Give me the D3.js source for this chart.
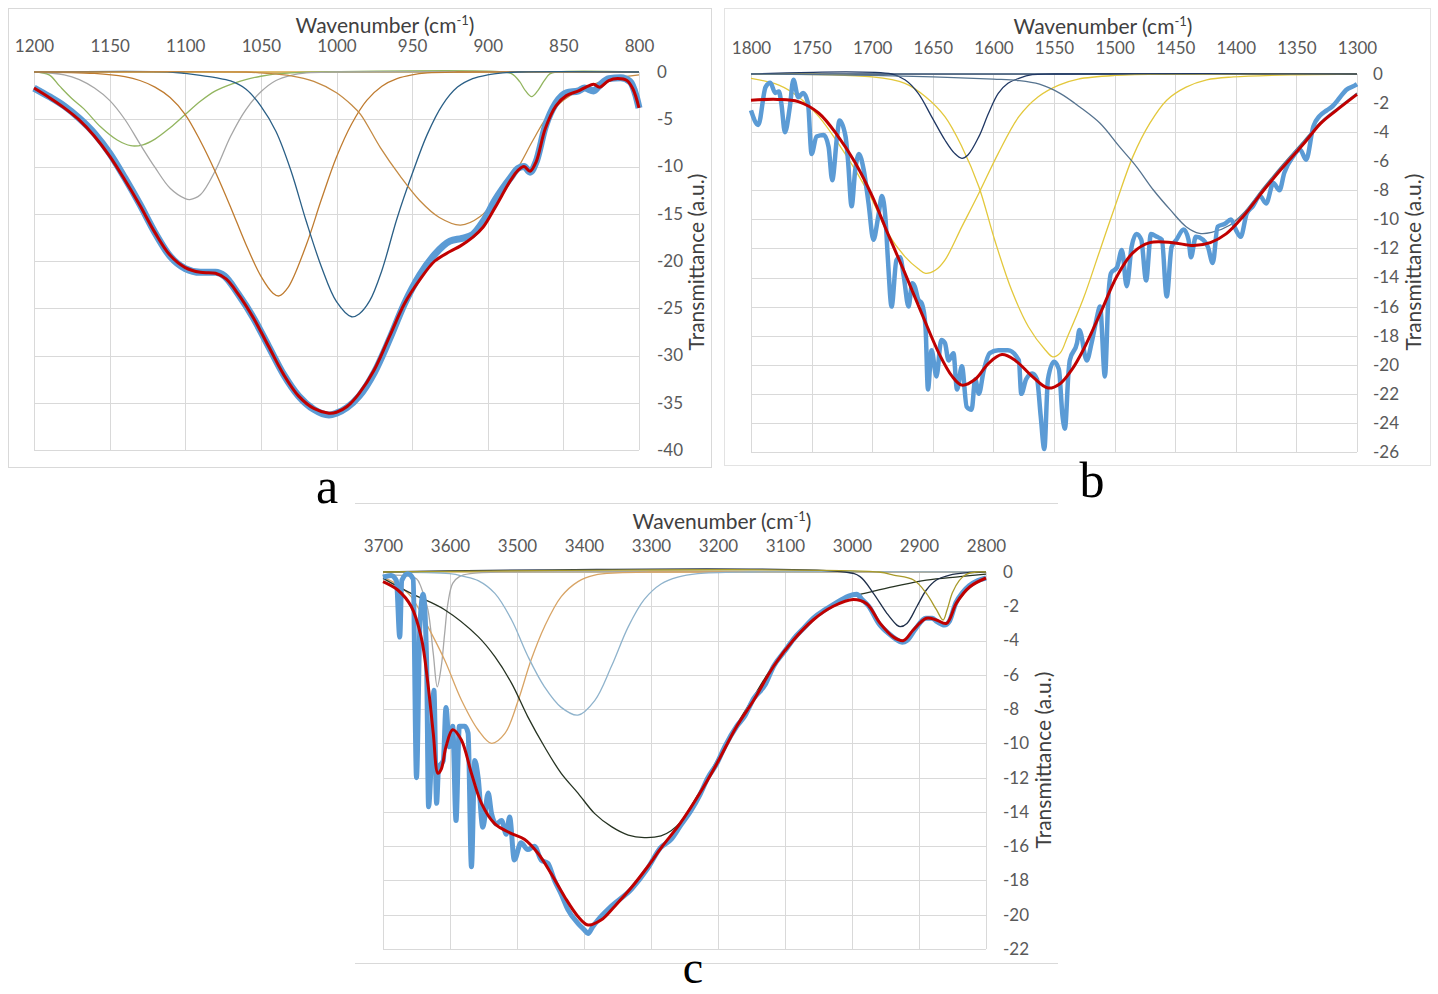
<!DOCTYPE html>
<html>
<head>
<meta charset="utf-8">
<script src="https://cdn.jsdelivr.net/npm/d3@7"></script>
<style>
  body { margin: 0; background: #fff; }
</style>
</head>
<body>
<svg id="chart" width="1438" height="994"></svg>
<script>
// ---------- Panel a (1200-800 cm-1) ----------
const aTicksX = [1200, 1150, 1100, 1050, 1000, 950, 900, 850, 800];
const aTicksY = [0, -5, -10, -15, -20, -25, -30, -35, -40];

const aData = [[1200,-1.7],[1190,-2.6],[1180,-3.6],[1170,-4.9],[1160,-6.5],[1150,-8.6],[1140,-11.2],[1130,-14.0],[1120,-17.0],[1110,-19.5],[1100,-20.8],[1090,-21.2],[1080,-21.2],[1074,-21.6],[1065,-23.5],[1055,-26.0],[1045,-29.0],[1035,-32.0],[1025,-34.3],[1015,-35.7],[1005,-36.3],[1000,-36.1],[993,-35.5],[985,-34.3],[975,-31.8],[965,-28.3],[955,-24.5],[945,-21.5],[935,-19.3],[925,-17.9],[917,-17.6],[910,-17.2],[903,-15.8],[895,-13.5],[885,-11.2],[880,-10.2],[876,-10.0],[872,-10.6],[868,-9.5],[862,-5.8],[855,-3.3],[848,-2.2],[840,-2.0],[836,-1.7],[830,-2.0],[826,-1.4],[820,-0.7],[812,-0.6],[806,-1.0],[802,-2.5],[800,-3.8]];
const aFit = [[1200,-1.7],[1190,-2.7],[1180,-3.8],[1170,-5.1],[1160,-6.8],[1150,-8.9],[1140,-11.4],[1130,-14.1],[1120,-17.0],[1110,-19.4],[1100,-20.7],[1090,-21.2],[1080,-21.3],[1073,-21.9],[1065,-23.5],[1055,-26.0],[1045,-29.0],[1035,-32.0],[1025,-34.3],[1015,-35.6],[1005,-36.1],[1000,-36.0],[993,-35.4],[985,-34.0],[975,-31.5],[965,-28.0],[955,-24.5],[945,-22.0],[935,-20.0],[925,-19.0],[918,-18.4],[910,-17.5],[903,-16.4],[895,-14.3],[885,-11.5],[880,-10.4],[876,-10.0],[872,-10.5],[868,-9.5],[862,-6.0],[855,-3.6],[848,-2.5],[840,-2.0],[835,-1.6],[830,-1.3],[826,-1.6],[820,-0.9],[814,-0.7],[808,-0.9],[804,-1.8],[800,-3.8]];
const aGreen = [[1200,0],[1190,-0.3],[1183,-1.5],[1175,-2.8],[1167,-3.9],[1156,-5.8],[1145,-7.2],[1136,-7.8],[1128,-7.7],[1120,-7.1],[1110,-5.9],[1100,-4.5],[1090,-3.1],[1080,-2.0],[1068,-1.2],[1060,-0.8],[1050,-0.45],[1040,-0.2],[1030,-0.1],[1010,0],[890,0],[884,-0.2],[879,-1.0],[875,-2.0],[871,-2.6],[867,-2.0],[863,-1.0],[859,-0.2],[854,0],[800,0]];
const aGray = [[1200,0],[1180,-0.3],[1170,-0.8],[1160,-1.7],[1150,-3.0],[1140,-5.0],[1130,-7.6],[1120,-10.1],[1110,-12.3],[1100,-13.4],[1097,-13.5],[1090,-13.0],[1080,-10.4],[1070,-6.8],[1060,-4.0],[1050,-2.1],[1040,-0.9],[1030,-0.35],[1020,-0.1],[1000,0],[800,0]];
const aOrange1 = [[1200,0],[1160,-0.15],[1140,-0.5],[1130,-0.9],[1120,-1.6],[1110,-2.7],[1100,-4.5],[1090,-7.3],[1080,-10.6],[1070,-14.3],[1060,-18.2],[1050,-21.6],[1042,-23.4],[1038,-23.7],[1032,-22.8],[1020,-18.3],[1010,-13.5],[1000,-9.0],[990,-5.5],[980,-3.0],[970,-1.5],[960,-0.7],[950,-0.3],[940,-0.1],[920,0],[800,0]];
const aBlue = [[1200,0],[1110,0],[1100,-0.15],[1090,-0.35],[1080,-0.6],[1070,-0.95],[1060,-1.8],[1050,-3.6],[1040,-6.3],[1030,-10.5],[1020,-15.8],[1010,-20.6],[1000,-24.3],[990,-25.9],[985,-25.6],[978,-24.2],[970,-21.0],[960,-15.5],[950,-10.8],[940,-6.6],[930,-3.5],[920,-1.6],[910,-0.7],[900,-0.3],[890,-0.1],[880,0],[800,0]];
const aOrange2 = [[1200,0],[1060,0],[1050,-0.1],[1030,-0.4],[1015,-1.0],[1000,-2.2],[990,-3.5],[984,-4.5],[971,-8.0],[958,-11.0],[945,-13.6],[932,-15.4],[918,-16.2],[905,-15.3],[892,-12.9],[881,-10.4],[870,-7.2],[861,-4.8],[850,-3.0],[835,-1.6],[817,-0.7],[800,-0.3]];
const aZero = [[1200,0],[800,0]];

// ---------- Panel b (1800-1300 cm-1) ----------
const bTicksX = [1800, 1750, 1700, 1650, 1600, 1550, 1500, 1450, 1400, 1350, 1300];
const bTicksY = [0, -2, -4, -6, -8, -10, -12, -14, -16, -18, -20, -22, -24, -26];

const bData = [[1800,-2.5],[1794,-3.5],[1788,-0.9],[1784,-0.6],[1780,-1.3],[1777,-1.2],[1775,-2.0],[1772,-4.0],[1768,-2.3],[1765,-0.4],[1761,-1.6],[1757,-1.3],[1753,-2.0],[1750,-5.5],[1746,-4.3],[1740,-4.2],[1736,-5.0],[1733,-7.3],[1729,-4.3],[1727,-3.2],[1722,-4.3],[1720,-5.9],[1717,-9.1],[1714,-6.6],[1711,-5.5],[1707,-6.6],[1703,-8.9],[1699,-11.4],[1695,-9.8],[1692,-8.4],[1689,-10.0],[1687,-12.8],[1684,-16.0],[1680,-12.8],[1677,-12.6],[1674,-13.9],[1670,-16.0],[1667,-14.4],[1665,-14.6],[1662,-15.5],[1659,-15.8],[1656,-17.4],[1654,-21.7],[1651,-19.0],[1647,-20.8],[1643,-18.3],[1640,-18.5],[1637,-19.7],[1633,-19.2],[1630,-21.7],[1626,-20.1],[1622,-22.9],[1618,-23.1],[1615,-21.0],[1612,-22.0],[1608,-20.4],[1603,-19.2],[1596,-19.0],[1588,-19.0],[1579,-19.7],[1577,-22.0],[1573,-21.0],[1568,-20.6],[1564,-21.0],[1561,-23.5],[1558,-25.8],[1555,-21.0],[1550,-19.8],[1546,-20.3],[1543,-23.5],[1541,-24.4],[1538,-20.5],[1537,-19.7],[1531,-18.5],[1529,-17.6],[1523,-19.7],[1519,-18.5],[1515,-16.9],[1512,-16.0],[1508,-20.8],[1505,-15.1],[1503,-13.7],[1498,-13.3],[1494,-12.1],[1490,-14.6],[1486,-11.9],[1482,-11.0],[1478,-11.4],[1474,-14.2],[1470,-11.0],[1465,-11.2],[1461,-11.4],[1457,-15.3],[1453,-11.9],[1449,-11.4],[1443,-10.7],[1439,-11.4],[1437,-12.6],[1433,-11.2],[1427,-11.4],[1423,-11.9],[1419,-13.0],[1415,-10.5],[1409,-10.3],[1404,-10.0],[1400,-10.7],[1396,-11.2],[1391,-9.6],[1386,-9.1],[1380,-8.4],[1375,-8.9],[1369,-7.5],[1364,-8.0],[1360,-6.8],[1353,-5.7],[1347,-5.2],[1342,-5.9],[1336,-3.6],[1331,-2.9],[1325,-2.5],[1320,-2.2],[1314,-1.6],[1309,-1.1],[1302,-0.8],[1300,-0.7]];
const bFit = [[1800,-1.8],[1778,-1.75],[1761,-1.9],[1744,-2.7],[1728,-4.3],[1714,-6.1],[1700,-8.4],[1687,-11.0],[1673,-13.7],[1659,-16.5],[1645,-19.2],[1634,-20.8],[1626,-21.4],[1615,-21.0],[1604,-19.9],[1593,-19.3],[1582,-19.7],[1568,-20.8],[1555,-21.6],[1545,-21.3],[1535,-20.3],[1526,-19.0],[1512,-16.5],[1498,-13.9],[1485,-12.3],[1471,-11.6],[1452,-11.6],[1435,-11.8],[1421,-11.6],[1408,-11.0],[1394,-9.8],[1377,-8.0],[1361,-6.4],[1344,-4.8],[1330,-3.4],[1317,-2.5],[1300,-1.4]];
const bYellow1 = [[1800,-0.3],[1777,-0.76],[1761,-1.56],[1744,-2.93],[1728,-4.77],[1714,-6.6],[1700,-8.67],[1687,-10.96],[1673,-12.56],[1662,-13.4],[1656,-13.71],[1648,-13.5],[1640,-12.8],[1626,-10.5],[1612,-8.2],[1596,-5.46],[1579,-2.93],[1563,-1.56],[1546,-0.76],[1530,-0.35],[1500,-0.1],[1450,0],[1300,0]];
const bYellow2 = [[1800,0],[1700,-0.2],[1673,-0.64],[1656,-1.56],[1640,-2.93],[1626,-5.0],[1612,-7.75],[1599,-11.4],[1585,-14.86],[1571,-17.4],[1557,-19.0],[1551,-19.45],[1545,-19.2],[1539,-18.1],[1526,-15.5],[1512,-12.1],[1498,-8.7],[1485,-5.7],[1471,-3.4],[1457,-1.8],[1441,-0.9],[1424,-0.4],[1402,-0.2],[1350,-0.05],[1300,0]];
const bNavy = [[1800,0],[1684,0],[1673,-0.4],[1662,-1.33],[1651,-2.93],[1640,-4.54],[1632,-5.46],[1626,-5.8],[1621,-5.57],[1612,-4.31],[1604,-2.7],[1596,-1.33],[1588,-0.64],[1579,-0.3],[1568,-0.05],[1550,0],[1300,0]];
const bSlate = [[1800,0],[1700,-0.1],[1650,-0.2],[1600,-0.35],[1579,-0.45],[1562,-0.7],[1545,-1.33],[1529,-2.25],[1512,-3.39],[1496,-5.0],[1482,-6.37],[1468,-7.98],[1454,-9.35],[1441,-10.5],[1430,-10.96],[1420,-10.9],[1405,-10.4],[1394,-9.6],[1377,-7.8],[1361,-6.2],[1344,-4.6],[1330,-3.3],[1317,-2.4],[1300,-1.3]];
const bZero = [[1800,0],[1300,0]];

// ---------- Panel c (3700-2800 cm-1) ----------
const cTicksX = [3700, 3600, 3500, 3400, 3300, 3200, 3100, 3000, 2900, 2800];
const cTicksY = [0, -2, -4, -6, -8, -10, -12, -14, -16, -18, -20, -22];

const cData = [[3700,-0.3],[3688,-0.2],[3680,-0.5],[3675,-3.8],[3672,-0.5],[3663,-0.1],[3655,-0.4],[3650,-12.0],[3645,-3.2],[3640,-1.3],[3635,-5.1],[3632,-13.7],[3628,-11.0],[3624,-6.9],[3620,-13.5],[3617,-11.4],[3610,-11.0],[3606,-7.9],[3601,-10.2],[3596,-9.0],[3591,-14.5],[3586,-9.0],[3578,-9.0],[3573,-9.4],[3568,-17.2],[3563,-11.0],[3558,-12.0],[3551,-14.9],[3543,-12.9],[3538,-14.1],[3531,-14.7],[3523,-14.5],[3516,-15.3],[3511,-14.3],[3504,-16.8],[3494,-15.8],[3484,-16.2],[3474,-16.0],[3464,-16.8],[3454,-17.0],[3444,-18.0],[3434,-18.8],[3424,-19.7],[3409,-20.5],[3399,-20.9],[3394,-21.1],[3387,-20.7],[3379,-20.3],[3359,-19.5],[3329,-18.5],[3305,-17.3],[3286,-16.1],[3270,-15.6],[3256,-14.8],[3240,-13.9],[3227,-13.0],[3215,-12.0],[3202,-11.2],[3190,-10.2],[3172,-9.0],[3160,-8.4],[3147,-7.4],[3130,-6.6],[3117,-5.5],[3100,-4.6],[3087,-3.9],[3070,-3.2],[3058,-2.7],[3040,-2.2],[3028,-1.9],[3015,-1.6],[3005,-1.4],[2993,-1.3],[2985,-1.6],[2975,-2.0],[2960,-3.0],[2945,-3.6],[2935,-3.9],[2925,-4.1],[2918,-4.0],[2905,-3.3],[2890,-2.7],[2880,-2.7],[2873,-2.9],[2862,-3.1],[2855,-2.9],[2845,-1.8],[2835,-1.2],[2825,-0.8],[2812,-0.5],[2800,-0.35]];
const cFit = [[3700,-0.56],[3678,-1.05],[3658,-2.0],[3643,-3.8],[3633,-6.5],[3625,-9.4],[3618,-11.75],[3613,-11.5],[3606,-10.2],[3596,-9.2],[3583,-9.8],[3568,-11.75],[3553,-13.5],[3533,-14.7],[3509,-15.25],[3489,-15.6],[3469,-16.4],[3449,-17.6],[3429,-18.95],[3409,-20.1],[3394,-20.6],[3374,-20.3],[3354,-19.5],[3329,-18.4],[3305,-17.2],[3283,-16.0],[3257,-14.7],[3227,-12.9],[3202,-11.2],[3172,-9.0],[3147,-7.5],[3117,-5.5],[3088,-4.0],[3058,-2.8],[3028,-2.0],[2998,-1.6],[2978,-1.85],[2958,-3.0],[2938,-3.8],[2923,-4.0],[2909,-3.4],[2889,-2.7],[2874,-2.8],[2859,-3.0],[2844,-1.8],[2824,-0.86],[2800,-0.35]];
const cGray = [[3700,-0.2],[3670,-0.2],[3650,-0.4],[3643,-0.9],[3633,-2.2],[3625,-4.75],[3619,-6.7],[3613,-5.5],[3608,-3.6],[3603,-1.8],[3596,-0.66],[3586,-0.27],[3570,-0.1],[3500,0],[2800,0]];
const cTan = [[3700,-0.3],[3680,-0.7],[3658,-1.44],[3633,-3.19],[3608,-5.14],[3583,-7.47],[3558,-9.22],[3538,-10.0],[3518,-9.42],[3498,-7.47],[3479,-5.14],[3459,-3.19],[3434,-1.44],[3409,-0.56],[3384,-0.18],[3350,-0.05],[3300,0],[2800,0]];
const cLightBlue = [[3700,0],[3600,-0.1],[3580,-0.25],[3558,-0.5],[3533,-1.25],[3508,-2.8],[3484,-4.9],[3459,-6.7],[3434,-7.9],[3409,-8.35],[3384,-7.5],[3359,-5.5],[3334,-3.2],[3310,-1.6],[3285,-0.7],[3260,-0.3],[3230,-0.1],[3150,0],[2800,0]];
const cDark = [[3700,-0.37],[3658,-1.25],[3608,-2.2],[3558,-3.77],[3533,-4.94],[3508,-6.5],[3484,-8.44],[3459,-10.2],[3434,-11.75],[3409,-12.9],[3384,-14.1],[3359,-14.86],[3334,-15.35],[3310,-15.5],[3285,-15.4],[3270,-15.1],[3256,-14.6],[3227,-12.8],[3202,-11.0],[3172,-8.9],[3147,-7.3],[3117,-5.4],[3087,-3.9],[3058,-2.7],[3028,-1.9],[3000,-1.4],[2988,-1.3],[2938,-0.86],[2889,-0.47],[2839,-0.27],[2800,-0.12]];
const cNavy = [[3700,0],[3010,0],[2988,-0.27],[2968,-1.25],[2948,-2.41],[2933,-3.1],[2928,-3.19],[2918,-3.0],[2903,-2.0],[2889,-1.05],[2874,-0.47],[2854,-0.18],[2830,-0.05],[2800,0]];
const cOlive = [[3700,0],[2960,0],[2938,-0.18],[2908,-0.47],[2889,-1.25],[2874,-2.2],[2864,-2.8],[2858,-2.2],[2850,-1.2],[2840,-0.5],[2830,-0.15],[2815,0],[2800,0]];
const cZero = [[3700,0],[2800,0]];

const dataBlue = "#5b9bd5", fitRed = "#c00000";
const fontFamily = "Lato, 'Open Sans', sans-serif";

const svg = d3.select("#chart");

// frames around the panels
svg.append("rect").attr("x", 8.5).attr("y", 8.5).attr("width", 703).attr("height", 459)
    .attr("fill", "none").attr("stroke", "#d9d9d9");
svg.append("rect").attr("x", 724.5).attr("y", 8.5).attr("width", 706).attr("height", 457)
    .attr("fill", "none").attr("stroke", "#e3e3e3");
svg.append("line").attr("x1", 355).attr("x2", 1058).attr("y1", 503.5).attr("y2", 503.5).attr("stroke", "#d9d9d9");
svg.append("line").attr("x1", 355).attr("x2", 1058).attr("y1", 963.5).attr("y2", 963.5).attr("stroke", "#d9d9d9");

function drawPanel(p) {
    const x = d3.scaleLinear().domain([p.xTicks[0], p.xTicks[p.xTicks.length - 1]]).range([p.left, p.right]);
    const y = d3.scaleLinear().domain([0, p.yTicks[p.yTicks.length - 1]]).range([p.top, p.bottom]);
    const g = svg.append("g");

    // gridlines
    g.selectAll("line.hgrid").data(p.yTicks).enter().append("line")
        .attr("x1", p.left).attr("x2", p.right)
        .attr("y1", d => Math.round(y(d)) + 0.5).attr("y2", d => Math.round(y(d)) + 0.5)
        .attr("stroke", "#d9d9d9").attr("stroke-width", 1);
    g.selectAll("line.vgrid").data(p.xTicks).enter().append("line")
        .attr("x1", d => Math.round(x(d)) + 0.5).attr("x2", d => Math.round(x(d)) + 0.5)
        .attr("y1", p.top).attr("y2", p.bottom)
        .attr("stroke", "#d9d9d9").attr("stroke-width", 1);

    // top axis labels
    g.append("g")
        .attr("transform", `translate(0,${p.xLabelY})`)
        .call(d3.axisTop(x).tickValues(p.xTicks).tickSize(0).tickPadding(0).tickFormat(d => d))
        .call(a => a.select(".domain").remove())
        .attr("font-family", fontFamily).attr("font-size", 17).attr("color", "#595959");

    // right axis labels
    g.append("g")
        .attr("transform", `translate(${p.right},0)`)
        .call(d3.axisRight(y).tickValues(p.yTicks).tickSize(0).tickPadding(p.yPad).tickFormat(d => String(d)))
        .call(a => a.select(".domain").remove())
        .attr("font-family", fontFamily).attr("font-size", 17).attr("color", "#595959");

    // axis titles
    const t = g.append("text")
        .attr("x", p.titleX).attr("y", p.titleY)
        .attr("text-anchor", "middle")
        .attr("font-family", fontFamily).attr("font-size", 21).attr("fill", "#404040");
    t.append("tspan").text("Wavenumber (cm");
    t.append("tspan").attr("font-size", 13).attr("dy", -8).text("-1");
    t.append("tspan").attr("dy", 8).text(")");

    g.append("text")
        .attr("transform", `translate(${p.yTitleX},${p.yTitleY}) rotate(-90)`)
        .attr("text-anchor", "middle")
        .attr("font-family", fontFamily).attr("font-size", 21).attr("fill", "#404040")
        .text("Transmittance (a.u.)");

    const smooth = d3.line()
        .x(d => x(d[0]))
        .y(d => y(d[1]))
        .curve(d3.curveCatmullRom.alpha(0.5));
    const raw = d3.line()
        .x(d => x(d[0]))
        .y(d => y(d[1]))
        .curve(d3.curveMonotoneX);

    // fitted components
    p.components.forEach(c => {
        g.append("path")
            .datum(c.values)
            .attr("fill", "none")
            .attr("stroke", c.color)
            .attr("stroke-width", 1.3)
            .attr("d", smooth);
    });

    // measured spectrum
    g.append("path")
        .datum(p.data)
        .attr("fill", "none")
        .attr("stroke", dataBlue)
        .attr("stroke-width", p.dataWidth)
        .attr("stroke-linejoin", "round")
        .attr("d", raw);

    // sum of components
    g.append("path")
        .datum(p.fit)
        .attr("fill", "none")
        .attr("stroke", fitRed)
        .attr("stroke-width", 3)
        .attr("d", smooth);

    // panel letter
    svg.append("text")
        .attr("x", p.letterX).attr("y", p.letterY)
        .attr("text-anchor", "middle")
        .attr("font-family", "'Liberation Serif', 'Times New Roman', serif")
        .attr("font-size", p.letterSize).attr("fill", "#000")
        .text(p.letter);
}

drawPanel({
    xTicks: aTicksX, yTicks: aTicksY,
    left: 34, right: 639, top: 72, bottom: 450,
    xLabelY: 52, yPad: 18, titleX: 385, titleY: 33, yTitleX: 704, yTitleY: 262,
    data: aData, fit: aFit, dataWidth: 7,
    components: [
        { values: aZero, color: "#d6a63c" },
        { values: aGreen, color: "#92b55f" },
        { values: aGray, color: "#a6a6a6" },
        { values: aOrange1, color: "#bf7b2f" },
        { values: aBlue, color: "#2a5f86" },
        { values: aOrange2, color: "#c48a43" }
    ],
    letter: "a", letterX: 327, letterY: 503, letterSize: 50
});

drawPanel({
    xTicks: bTicksX, yTicks: bTicksY,
    left: 751, right: 1357, top: 74, bottom: 452,
    xLabelY: 54, yPad: 16, titleX: 1103, titleY: 34, yTitleX: 1421, yTitleY: 262,
    data: bData, fit: bFit, dataWidth: 4.5,
    components: [
        { values: bZero, color: "#2e4a6b" },
        { values: bYellow1, color: "#e3c83c" },
        { values: bYellow2, color: "#e3c83c" },
        { values: bNavy, color: "#203864" },
        { values: bSlate, color: "#56738f" }
    ],
    letter: "b", letterX: 1092, letterY: 497, letterSize: 50
});

drawPanel({
    xTicks: cTicksX, yTicks: cTicksY,
    left: 383, right: 986, top: 572, bottom: 949,
    xLabelY: 552, yPad: 17, titleX: 722, titleY: 529, yTitleX: 1051, yTitleY: 760,
    data: cData, fit: cFit, dataWidth: 5,
    components: [
        { values: cZero, color: "#dcc27a" },
        { values: cGray, color: "#a8a8a8" },
        { values: cTan, color: "#d8a465" },
        { values: cLightBlue, color: "#8fb3cc" },
        { values: cDark, color: "#263322" },
        { values: cNavy, color: "#1f2f4a" },
        { values: cOlive, color: "#a89a2a" }
    ],
    letter: "c", letterX: 693, letterY: 983, letterSize: 46
});
</script>
</body>
</html>
